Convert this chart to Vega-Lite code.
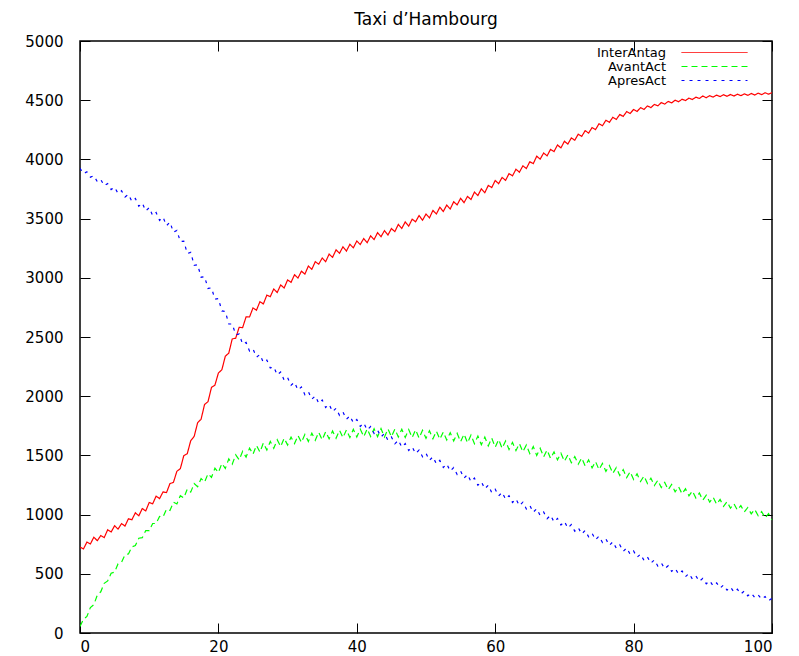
{
  "$schema": "https://vega.github.io/schema/vega-lite/v6.json",
  "width": 692,
  "height": 592,
  "autosize": "none",
  "padding": {"left": 80, "top": 41, "right": 27, "bottom": 23},
  "background": "white",
  "title": {"text": "Taxi d’Hambourg", "font": "DejaVu Sans", "fontSize": 17, "fontWeight": "normal", "color": "black", "offset": 5, "anchor": "middle"},
  "config": {
    "view": {"stroke": "black", "strokeWidth": 1.5},
    "axis": {"domain": false, "grid": false, "tickColor": "black", "tickWidth": 1, "tickSize": 10, "offset": -10, "labelFont": "DejaVu Sans", "labelFontSize": 15, "labelColor": "black", "title": null},
    "legend": {"orient": "none", "legendX": 628, "legendY": 5, "labelAlign": "right", "labelOffset": -55, "labelFont": "DejaVu Sans", "labelFontSize": 13, "labelColor": "black", "rowPadding": 0, "padding": 0, "title": null, "symbolStrokeWidth": 1}
  },
  "data": {"values": [
{"x":0,"InterAntag":725,"AvantAct":55,"ApresAct":3925},
{"x":0.5,"InterAntag":710,"AvantAct":115,"ApresAct":3880},
{"x":1,"InterAntag":768,"AvantAct":140,"ApresAct":3895},
{"x":1.5,"InterAntag":752,"AvantAct":215,"ApresAct":3850},
{"x":2,"InterAntag":809,"AvantAct":240,"ApresAct":3862},
{"x":2.5,"InterAntag":780,"AvantAct":320,"ApresAct":3812},
{"x":3,"InterAntag":823,"AvantAct":348,"ApresAct":3830},
{"x":3.5,"InterAntag":806,"AvantAct":420,"ApresAct":3778},
{"x":4,"InterAntag":872,"AvantAct":440,"ApresAct":3795},
{"x":4.5,"InterAntag":853,"AvantAct":505,"ApresAct":3745},
{"x":5,"InterAntag":906,"AvantAct":515,"ApresAct":3765},
{"x":5.5,"InterAntag":877,"AvantAct":585,"ApresAct":3712},
{"x":6,"InterAntag":924,"AvantAct":598,"ApresAct":3735},
{"x":6.5,"InterAntag":903,"AvantAct":660,"ApresAct":3682},
{"x":7,"InterAntag":965,"AvantAct":668,"ApresAct":3705},
{"x":7.5,"InterAntag":957,"AvantAct":728,"ApresAct":3645},
{"x":8,"InterAntag":1015,"AvantAct":738,"ApresAct":3670},
{"x":8.5,"InterAntag":990,"AvantAct":800,"ApresAct":3605},
{"x":9,"InterAntag":1051,"AvantAct":805,"ApresAct":3632},
{"x":9.5,"InterAntag":1031,"AvantAct":865,"ApresAct":3565},
{"x":10,"InterAntag":1102,"AvantAct":865,"ApresAct":3592},
{"x":10.5,"InterAntag":1091,"AvantAct":925,"ApresAct":3525},
{"x":11,"InterAntag":1156,"AvantAct":925,"ApresAct":3552},
{"x":11.5,"InterAntag":1135,"AvantAct":985,"ApresAct":3485},
{"x":12,"InterAntag":1192,"AvantAct":980,"ApresAct":3512},
{"x":12.5,"InterAntag":1186,"AvantAct":1045,"ApresAct":3440},
{"x":13,"InterAntag":1262,"AvantAct":1035,"ApresAct":3470},
{"x":13.5,"InterAntag":1272,"AvantAct":1105,"ApresAct":3385},
{"x":14,"InterAntag":1366,"AvantAct":1090,"ApresAct":3400},
{"x":14.5,"InterAntag":1388,"AvantAct":1160,"ApresAct":3305},
{"x":15,"InterAntag":1498,"AvantAct":1140,"ApresAct":3310},
{"x":15.5,"InterAntag":1514,"AvantAct":1215,"ApresAct":3205},
{"x":16,"InterAntag":1624,"AvantAct":1190,"ApresAct":3215},
{"x":16.5,"InterAntag":1661,"AvantAct":1262,"ApresAct":3105},
{"x":17,"InterAntag":1776,"AvantAct":1235,"ApresAct":3110},
{"x":17.5,"InterAntag":1806,"AvantAct":1305,"ApresAct":3005},
{"x":18,"InterAntag":1930,"AvantAct":1275,"ApresAct":3010},
{"x":18.5,"InterAntag":1954,"AvantAct":1345,"ApresAct":2910},
{"x":19,"InterAntag":2074,"AvantAct":1315,"ApresAct":2915},
{"x":19.5,"InterAntag":2094,"AvantAct":1392,"ApresAct":2820},
{"x":20,"InterAntag":2196,"AvantAct":1355,"ApresAct":2825},
{"x":20.5,"InterAntag":2223,"AvantAct":1432,"ApresAct":2720},
{"x":21,"InterAntag":2338,"AvantAct":1390,"ApresAct":2715},
{"x":21.5,"InterAntag":2364,"AvantAct":1470,"ApresAct":2610},
{"x":22,"InterAntag":2484,"AvantAct":1425,"ApresAct":2610},
{"x":22.5,"InterAntag":2490,"AvantAct":1505,"ApresAct":2520},
{"x":23,"InterAntag":2582,"AvantAct":1462,"ApresAct":2525},
{"x":23.5,"InterAntag":2579,"AvantAct":1535,"ApresAct":2440},
{"x":24,"InterAntag":2670,"AvantAct":1485,"ApresAct":2455},
{"x":24.5,"InterAntag":2669,"AvantAct":1562,"ApresAct":2380},
{"x":25,"InterAntag":2746,"AvantAct":1510,"ApresAct":2398},
{"x":25.5,"InterAntag":2726,"AvantAct":1585,"ApresAct":2330},
{"x":26,"InterAntag":2798,"AvantAct":1528,"ApresAct":2352},
{"x":26.5,"InterAntag":2779,"AvantAct":1605,"ApresAct":2285},
{"x":27,"InterAntag":2854,"AvantAct":1545,"ApresAct":2305},
{"x":27.5,"InterAntag":2841,"AvantAct":1618,"ApresAct":2238},
{"x":28,"InterAntag":2906,"AvantAct":1560,"ApresAct":2248},
{"x":28.5,"InterAntag":2876,"AvantAct":1632,"ApresAct":2180},
{"x":29,"InterAntag":2940,"AvantAct":1575,"ApresAct":2205},
{"x":29.5,"InterAntag":2914,"AvantAct":1645,"ApresAct":2135},
{"x":30,"InterAntag":2982,"AvantAct":1588,"ApresAct":2158},
{"x":30.5,"InterAntag":2962,"AvantAct":1655,"ApresAct":2092},
{"x":31,"InterAntag":3026,"AvantAct":1600,"ApresAct":2118},
{"x":31.5,"InterAntag":2998,"AvantAct":1668,"ApresAct":2052},
{"x":32,"InterAntag":3056,"AvantAct":1610,"ApresAct":2078},
{"x":32.5,"InterAntag":3031,"AvantAct":1678,"ApresAct":2012},
{"x":33,"InterAntag":3099,"AvantAct":1618,"ApresAct":2038},
{"x":33.5,"InterAntag":3072,"AvantAct":1688,"ApresAct":1975},
{"x":34,"InterAntag":3136,"AvantAct":1628,"ApresAct":2002},
{"x":34.5,"InterAntag":3115,"AvantAct":1695,"ApresAct":1940},
{"x":35,"InterAntag":3167,"AvantAct":1632,"ApresAct":1968},
{"x":35.5,"InterAntag":3136,"AvantAct":1700,"ApresAct":1905},
{"x":36,"InterAntag":3200,"AvantAct":1640,"ApresAct":1932},
{"x":36.5,"InterAntag":3173,"AvantAct":1706,"ApresAct":1870},
{"x":37,"InterAntag":3236,"AvantAct":1645,"ApresAct":1898},
{"x":37.5,"InterAntag":3207,"AvantAct":1712,"ApresAct":1838},
{"x":38,"InterAntag":3262,"AvantAct":1650,"ApresAct":1866},
{"x":38.5,"InterAntag":3226,"AvantAct":1716,"ApresAct":1805},
{"x":39,"InterAntag":3283,"AvantAct":1652,"ApresAct":1834},
{"x":39.5,"InterAntag":3253,"AvantAct":1720,"ApresAct":1775},
{"x":40,"InterAntag":3311,"AvantAct":1655,"ApresAct":1804},
{"x":40.5,"InterAntag":3281,"AvantAct":1722,"ApresAct":1745},
{"x":41,"InterAntag":3332,"AvantAct":1658,"ApresAct":1774},
{"x":41.5,"InterAntag":3296,"AvantAct":1724,"ApresAct":1715},
{"x":42,"InterAntag":3355,"AvantAct":1660,"ApresAct":1744},
{"x":42.5,"InterAntag":3323,"AvantAct":1725,"ApresAct":1685},
{"x":43,"InterAntag":3381,"AvantAct":1658,"ApresAct":1714},
{"x":43.5,"InterAntag":3347,"AvantAct":1726,"ApresAct":1656},
{"x":44,"InterAntag":3399,"AvantAct":1655,"ApresAct":1686},
{"x":44.5,"InterAntag":3361,"AvantAct":1724,"ApresAct":1628},
{"x":45,"InterAntag":3416,"AvantAct":1658,"ApresAct":1656},
{"x":45.5,"InterAntag":3390,"AvantAct":1722,"ApresAct":1598},
{"x":46,"InterAntag":3451,"AvantAct":1656,"ApresAct":1628},
{"x":46.5,"InterAntag":3417,"AvantAct":1720,"ApresAct":1570},
{"x":47,"InterAntag":3472,"AvantAct":1652,"ApresAct":1600},
{"x":47.5,"InterAntag":3436,"AvantAct":1718,"ApresAct":1542},
{"x":48,"InterAntag":3495,"AvantAct":1650,"ApresAct":1572},
{"x":48.5,"InterAntag":3473,"AvantAct":1716,"ApresAct":1515},
{"x":49,"InterAntag":3526,"AvantAct":1646,"ApresAct":1545},
{"x":49.5,"InterAntag":3486,"AvantAct":1712,"ApresAct":1488},
{"x":50,"InterAntag":3538,"AvantAct":1644,"ApresAct":1518},
{"x":50.5,"InterAntag":3506,"AvantAct":1708,"ApresAct":1458},
{"x":51,"InterAntag":3569,"AvantAct":1640,"ApresAct":1488},
{"x":51.5,"InterAntag":3539,"AvantAct":1704,"ApresAct":1428},
{"x":52,"InterAntag":3596,"AvantAct":1636,"ApresAct":1458},
{"x":52.5,"InterAntag":3560,"AvantAct":1698,"ApresAct":1398},
{"x":53,"InterAntag":3615,"AvantAct":1630,"ApresAct":1428},
{"x":53.5,"InterAntag":3581,"AvantAct":1692,"ApresAct":1368},
{"x":54,"InterAntag":3642,"AvantAct":1622,"ApresAct":1398},
{"x":54.5,"InterAntag":3616,"AvantAct":1686,"ApresAct":1338},
{"x":55,"InterAntag":3671,"AvantAct":1615,"ApresAct":1368},
{"x":55.5,"InterAntag":3635,"AvantAct":1680,"ApresAct":1308},
{"x":56,"InterAntag":3688,"AvantAct":1606,"ApresAct":1338},
{"x":56.5,"InterAntag":3661,"AvantAct":1672,"ApresAct":1278},
{"x":57,"InterAntag":3724,"AvantAct":1598,"ApresAct":1308},
{"x":57.5,"InterAntag":3695,"AvantAct":1664,"ApresAct":1248},
{"x":58,"InterAntag":3752,"AvantAct":1590,"ApresAct":1278},
{"x":58.5,"InterAntag":3719,"AvantAct":1655,"ApresAct":1218},
{"x":59,"InterAntag":3780,"AvantAct":1580,"ApresAct":1248},
{"x":59.5,"InterAntag":3762,"AvantAct":1646,"ApresAct":1185},
{"x":60,"InterAntag":3822,"AvantAct":1570,"ApresAct":1215},
{"x":60.5,"InterAntag":3795,"AvantAct":1634,"ApresAct":1158},
{"x":61,"InterAntag":3848,"AvantAct":1560,"ApresAct":1188},
{"x":61.5,"InterAntag":3823,"AvantAct":1622,"ApresAct":1130},
{"x":62,"InterAntag":3880,"AvantAct":1550,"ApresAct":1160},
{"x":62.5,"InterAntag":3861,"AvantAct":1610,"ApresAct":1102},
{"x":63,"InterAntag":3917,"AvantAct":1540,"ApresAct":1132},
{"x":63.5,"InterAntag":3892,"AvantAct":1600,"ApresAct":1075},
{"x":64,"InterAntag":3946,"AvantAct":1530,"ApresAct":1105},
{"x":64.5,"InterAntag":3923,"AvantAct":1588,"ApresAct":1048},
{"x":65,"InterAntag":3980,"AvantAct":1515,"ApresAct":1078},
{"x":65.5,"InterAntag":3964,"AvantAct":1575,"ApresAct":1020},
{"x":66,"InterAntag":4027,"AvantAct":1500,"ApresAct":1050},
{"x":66.5,"InterAntag":4002,"AvantAct":1560,"ApresAct":992},
{"x":67,"InterAntag":4054,"AvantAct":1488,"ApresAct":1022},
{"x":67.5,"InterAntag":4030,"AvantAct":1545,"ApresAct":965},
{"x":68,"InterAntag":4085,"AvantAct":1475,"ApresAct":995},
{"x":68.5,"InterAntag":4066,"AvantAct":1530,"ApresAct":938},
{"x":69,"InterAntag":4122,"AvantAct":1462,"ApresAct":968},
{"x":69.5,"InterAntag":4097,"AvantAct":1518,"ApresAct":912},
{"x":70,"InterAntag":4153,"AvantAct":1450,"ApresAct":942},
{"x":70.5,"InterAntag":4130,"AvantAct":1505,"ApresAct":886},
{"x":71,"InterAntag":4181,"AvantAct":1438,"ApresAct":916},
{"x":71.5,"InterAntag":4162,"AvantAct":1490,"ApresAct":860},
{"x":72,"InterAntag":4213,"AvantAct":1425,"ApresAct":890},
{"x":72.5,"InterAntag":4194,"AvantAct":1478,"ApresAct":836},
{"x":73,"InterAntag":4243,"AvantAct":1410,"ApresAct":866},
{"x":73.5,"InterAntag":4222,"AvantAct":1462,"ApresAct":812},
{"x":74,"InterAntag":4269,"AvantAct":1395,"ApresAct":842},
{"x":74.5,"InterAntag":4252,"AvantAct":1448,"ApresAct":788},
{"x":75,"InterAntag":4301,"AvantAct":1380,"ApresAct":818},
{"x":75.5,"InterAntag":4284,"AvantAct":1432,"ApresAct":765},
{"x":76,"InterAntag":4331,"AvantAct":1365,"ApresAct":794},
{"x":76.5,"InterAntag":4313,"AvantAct":1415,"ApresAct":740},
{"x":77,"InterAntag":4356,"AvantAct":1348,"ApresAct":770},
{"x":77.5,"InterAntag":4338,"AvantAct":1398,"ApresAct":716},
{"x":78,"InterAntag":4379,"AvantAct":1330,"ApresAct":746},
{"x":78.5,"InterAntag":4363,"AvantAct":1380,"ApresAct":690},
{"x":79,"InterAntag":4404,"AvantAct":1312,"ApresAct":718},
{"x":79.5,"InterAntag":4388,"AvantAct":1362,"ApresAct":665},
{"x":80,"InterAntag":4422,"AvantAct":1296,"ApresAct":692},
{"x":80.5,"InterAntag":4405,"AvantAct":1344,"ApresAct":640},
{"x":81,"InterAntag":4437,"AvantAct":1280,"ApresAct":666},
{"x":81.5,"InterAntag":4422,"AvantAct":1326,"ApresAct":614},
{"x":82,"InterAntag":4452,"AvantAct":1262,"ApresAct":642},
{"x":82.5,"InterAntag":4437,"AvantAct":1308,"ApresAct":590},
{"x":83,"InterAntag":4465,"AvantAct":1245,"ApresAct":617},
{"x":83.5,"InterAntag":4452,"AvantAct":1290,"ApresAct":566},
{"x":84,"InterAntag":4480,"AvantAct":1228,"ApresAct":592},
{"x":84.5,"InterAntag":4467,"AvantAct":1272,"ApresAct":542},
{"x":85,"InterAntag":4490,"AvantAct":1210,"ApresAct":568},
{"x":85.5,"InterAntag":4477,"AvantAct":1254,"ApresAct":520},
{"x":86,"InterAntag":4500,"AvantAct":1192,"ApresAct":546},
{"x":86.5,"InterAntag":4487,"AvantAct":1236,"ApresAct":498},
{"x":87,"InterAntag":4508,"AvantAct":1175,"ApresAct":524},
{"x":87.5,"InterAntag":4497,"AvantAct":1218,"ApresAct":476},
{"x":88,"InterAntag":4518,"AvantAct":1158,"ApresAct":503},
{"x":88.5,"InterAntag":4506,"AvantAct":1200,"ApresAct":456},
{"x":89,"InterAntag":4526,"AvantAct":1140,"ApresAct":482},
{"x":89.5,"InterAntag":4515,"AvantAct":1182,"ApresAct":436},
{"x":90,"InterAntag":4535,"AvantAct":1122,"ApresAct":462},
{"x":90.5,"InterAntag":4521,"AvantAct":1164,"ApresAct":416},
{"x":91,"InterAntag":4538,"AvantAct":1105,"ApresAct":442},
{"x":91.5,"InterAntag":4526,"AvantAct":1146,"ApresAct":398},
{"x":92,"InterAntag":4543,"AvantAct":1088,"ApresAct":423},
{"x":92.5,"InterAntag":4530,"AvantAct":1128,"ApresAct":380},
{"x":93,"InterAntag":4546,"AvantAct":1070,"ApresAct":405},
{"x":93.5,"InterAntag":4533,"AvantAct":1110,"ApresAct":362},
{"x":94,"InterAntag":4548,"AvantAct":1054,"ApresAct":388},
{"x":94.5,"InterAntag":4535,"AvantAct":1092,"ApresAct":345},
{"x":95,"InterAntag":4551,"AvantAct":1038,"ApresAct":370},
{"x":95.5,"InterAntag":4538,"AvantAct":1076,"ApresAct":330},
{"x":96,"InterAntag":4554,"AvantAct":1022,"ApresAct":354},
{"x":96.5,"InterAntag":4541,"AvantAct":1060,"ApresAct":314},
{"x":97,"InterAntag":4557,"AvantAct":1006,"ApresAct":338},
{"x":97.5,"InterAntag":4544,"AvantAct":1044,"ApresAct":300},
{"x":98,"InterAntag":4560,"AvantAct":990,"ApresAct":322},
{"x":98.5,"InterAntag":4547,"AvantAct":1026,"ApresAct":286},
{"x":99,"InterAntag":4563,"AvantAct":972,"ApresAct":308},
{"x":99.5,"InterAntag":4551,"AvantAct":1008,"ApresAct":272},
{"x":100,"InterAntag":4564,"AvantAct":955,"ApresAct":294}
  ]},
  "transform": [{"fold": ["InterAntag", "AvantAct", "ApresAct"], "as": ["serie", "v"]}],
  "layer": [
    {
      "mark": {"type": "line", "strokeWidth": 1.2, "clip": true},
      "encoding": {
        "x": {"field": "x", "type": "quantitative", "scale": {"domain": [0, 100], "nice": false, "zero": false}, "axis": {"orient": "bottom", "values": [0, 20, 40, 60, 80, 100], "labelPadding": 6}},
        "y": {"field": "v", "type": "quantitative", "scale": {"domain": [0, 5000], "nice": false}, "axis": {"orient": "left", "values": [0, 500, 1000, 1500, 2000, 2500, 3000, 3500, 4000, 4500, 5000], "format": "d", "labelPadding": 17}},
        "color": {"field": "serie", "type": "nominal", "scale": {"domain": ["InterAntag", "AvantAct", "ApresAct"], "range": ["#ff0000", "#00ff00", "#0000ff"]}, "legend": {"symbolType": "M-6.6,0H6.6", "symbolSize": 100}},
        "strokeDash": {"field": "serie", "type": "nominal", "scale": {"domain": ["InterAntag", "AvantAct", "ApresAct"], "range": [[1, 0], [6, 4], [3, 5]]}, "legend": {"symbolType": "M-6.6,0H6.6", "symbolSize": 100}}
      }
    },
    {
      "mark": {"type": "line", "opacity": 0},
      "encoding": {
        "x": {"field": "x", "type": "quantitative", "axis": {"orient": "top", "values": [0, 20, 40, 60, 80, 100], "labels": false}},
        "y": {"field": "v", "type": "quantitative", "axis": {"orient": "right", "values": [0, 500, 1000, 1500, 2000, 2500, 3000, 3500, 4000, 4500, 5000], "labels": false}},
        "detail": {"field": "serie", "type": "nominal"}
      }
    }
  ],
  "resolve": {"axis": {"x": "independent", "y": "independent"}}
}
